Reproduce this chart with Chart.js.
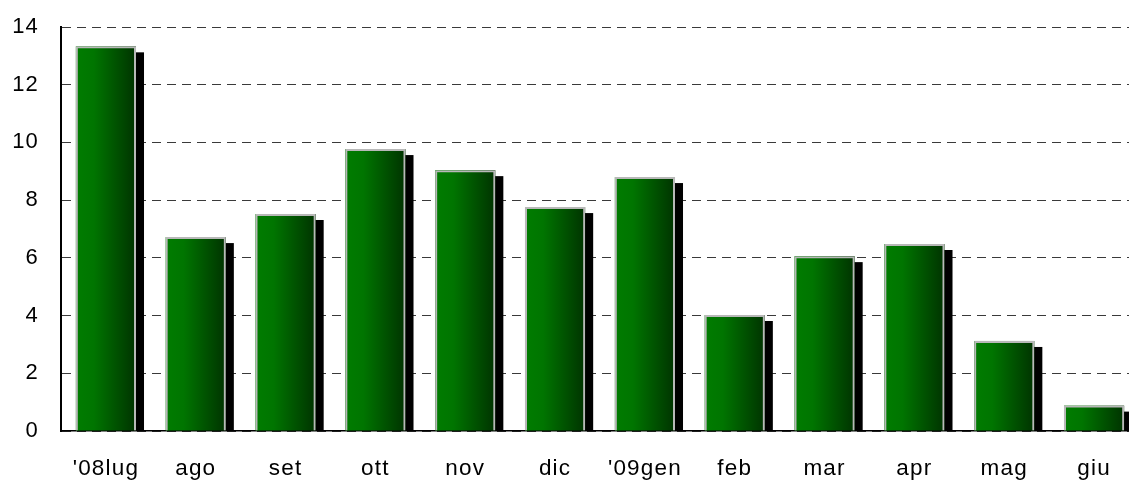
<!DOCTYPE html>
<html>
<head>
<meta charset="utf-8">
<script src="https://cdn.jsdelivr.net/npm/chart.js@4"></script>
<style>
    html, body { margin: 0; padding: 0; background: #fff; overflow: hidden; }
    #wrap { width: 1139px; height: 482px; }
</style>
</head>
<body>
<div id="wrap"><canvas id="chartCanvas" width="1139" height="482"></canvas></div>
<script>
    // Chart values
    const months = ["'08lug", 'ago', 'set', 'ott', 'nov', 'dic', "'09gen", 'feb', 'mar', 'apr', 'mag', 'giu'];
    const values = [13.33, 6.72, 7.52, 9.77, 9.04, 7.76, 8.80, 4.02, 6.06, 6.48, 3.12, 0.88];
    const yTicks = [0, 2, 4, 6, 8, 10, 12, 14];

    const FONT = "'Liberation Sans', Arial, sans-serif";

    // Draws the black drop shadow and the green gradient under each bar
    const barShadow = {
        id: 'barShadow',
        beforeDraw(chart) {
            // the original labels are a bit wider spaced than plain Arial
            chart.ctx.letterSpacing = '1.2px';
        },
        beforeDatasetsDraw(chart) {
            const ctx = chart.ctx;
            const area = chart.chartArea;
            const meta = chart.getDatasetMeta(0);
            ctx.save();
            ctx.beginPath();
            ctx.rect(area.left, area.top, area.right - area.left, area.bottom - area.top);
            ctx.clip();
            meta.data.forEach(bar => {
                const left = bar.x - bar.width / 2;
                const right = bar.x + bar.width / 2;
                // shadow
                ctx.fillStyle = '#000';
                ctx.fillRect(left + 8, bar.y + 6, bar.width, bar.base - bar.y - 6);
                // gradient body
                const grad = ctx.createLinearGradient(left, 0, right, 0);
                grad.addColorStop(0, '#007c00');
                grad.addColorStop(0.3, '#007500');
                grad.addColorStop(1, '#003300');
                ctx.fillStyle = grad;
                ctx.fillRect(left, bar.y, bar.width, bar.base - bar.y);
            });
            ctx.restore();
        },
        afterDraw(chart) {
            chart.ctx.letterSpacing = '0px';
        }
    };

    new Chart(document.getElementById('chartCanvas'), {
        type: 'bar',
        data: {
            labels: months,
            datasets: [{
                data: values,
                backgroundColor: 'rgba(0,0,0,0)',
                borderColor: '#b8b8b8',
                borderWidth: 2,
                borderSkipped: 'start',
                categoryPercentage: 1,
                barPercentage: 0.67
            }]
        },
        options: {
            responsive: false,
            animation: false,
            layout: { padding: { top: 27, right: 0, left: 0, bottom: 0 } },
            plugins: {
                legend: { display: false },
                tooltip: { enabled: false }
            },
            scales: {
                x: {
                    grid: { display: false, drawTicks: false },
                    border: { display: true, color: '#000', width: 1.5 },
                    ticks: {
                        padding: 24,
                        color: '#000',
                        font: { family: FONT, size: 22.5 }
                    },
                    afterFit(scale) { scale.height = 51; }
                },
                y: {
                    min: 0,
                    max: 14,
                    afterBuildTicks(scale) { scale.ticks = yTicks.map(v => ({ value: v })); },
                    grid: {
                        color: '#3a3a3a',
                        lineWidth: 1,
                        drawTicks: false
                    },
                    // in v4 border.dash is the dash of the grid lines
                    border: { display: true, color: '#000', width: 2, dash: [9, 6] },
                    ticks: {
                        padding: 22,
                        color: '#000',
                        font: { family: FONT, size: 22 }
                    },
                    afterFit(scale) {
                        scale.width = 61;
                        scale.paddingTop = 0;
                    }
                }
            }
        },
        plugins: [barShadow]
    });
</script>
</body>
</html>
